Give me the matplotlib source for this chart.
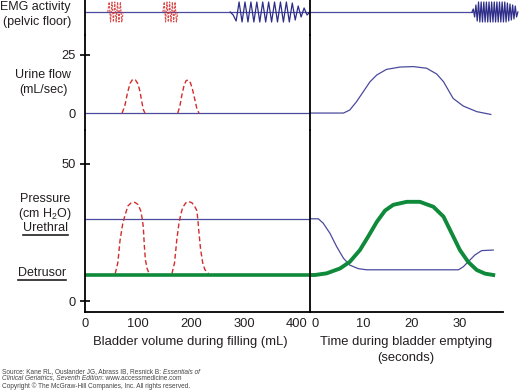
import matplotlib
matplotlib.use("Agg")
import matplotlib.pyplot as plt
from matplotlib.lines import Line2D
import numpy as np

plt.rcParams['font.family'] = ['Liberation Sans', 'DejaVu Sans']
plt.rcParams['mathtext.default'] = 'regular'

# ---- data ----
vol_ticks = [0, 100, 200, 300, 400]
time_ticks = [0, 10, 20, 30]

# EMG bursts (start, end, half-cycle amplitudes)
emg_guard1 = (43, 72)
emg_guard2 = (147, 175)
emg_guard_amp = [1, 1, 1, 1, 1, 1, 1, 1, 1, 1]
emg_fill = (274, 424.5)
emg_fill_amp = [-0.3, 0.9, 1, 1, 1, 1, 1, 1, 1, 1, 1, 1, 1, 1, 1, 1, 1, 1, 1, 1,
                0.9, 0.8, 0.6, 0.5, 0.4, 0.3]
emg_void = (32.5, 42.0)
emg_void_amp = [0.3, 0.5, 0.7, 0.9, 1, 1, 1, 1, 1, 1, 1, 1, 1, 1, 1, 1, 1, 1, 1, 1,
                1, 1, 1, 1, 1, 1, 0.9, 0.9, 0.8, 0.8, 0.7, 0.7, 0.6, 0.5]

# urine flow, filling phase (red dashed bumps)
flow_b1_vol = [70, 75, 80, 85, 90, 95, 100, 104, 107, 110, 113]
flow_b1_val = [0, 3, 8.5, 12.8, 14.5, 14.3, 12.5, 9, 5, 1.5, 0]
flow_b2_vol = [175, 179, 183, 187, 191, 195, 199, 203, 207, 211, 215]
flow_b2_val = [0, 3, 8, 12, 14, 14.2, 13, 10, 6, 2, 0]

# urine flow, emptying phase
flow_t = [-1.1, 5.9, 7.2, 8.6, 10, 11.4, 12.8, 14.8, 17.6, 20.3, 23.1, 25.2,
          26.6, 27.6, 28.6, 30.7, 33.5, 36.4]
flow_v = [0, 0, 1.3, 4.9, 9.2, 13.5, 16.4, 18.8, 19.8, 20, 19.3, 16.8,
          13.5, 9.9, 6.3, 3, 0.6, -0.6]

# pressure, filling phase
ureth_fill = 30
detr_fill = 9.5
pres_b1_vol = [57, 62, 66, 71, 75, 81, 87, 94, 100, 105, 108, 110, 112, 114, 117, 121]
pres_b1_val = [10, 14, 22, 28, 31, 34.7, 35.8, 36, 35.2, 33, 30, 27, 20, 15, 12, 10]
pres_b2_vol = [164, 169, 173, 177, 180, 184, 190, 196, 202, 207, 211, 213, 215, 218, 222, 226, 233]
pres_b2_val = [10, 14, 22, 28, 31, 34, 35.8, 36.3, 35.8, 34.5, 33, 29.5, 25, 19, 14, 11.5, 10]

# pressure, emptying phase
ureth_t = [-1.1, 0.7, 1.7, 3.1, 4.5, 5.9, 7.2, 9, 10.7, 29.7, 30.7, 31.7, 33.1, 34.5, 36.9]
ureth_p = [30, 30, 28.4, 24.7, 19.8, 15.6, 13.1, 11.8, 11.4, 11.4, 12.5, 14.3, 16.8, 18.4, 18.6]
detr_t = [-1.1, 0, 2.4, 5.2, 7.2, 9.3, 11, 12.8, 14.5, 16.2, 19, 21.7, 24.5, 26.6,
          28.3, 30, 31.7, 33.5, 35.2, 36.9]
detr_p = [9.5, 9.5, 10.1, 11.9, 14.3, 18.6, 23.5, 28.9, 33, 35.1, 36.2, 36.2, 34.4, 30.8,
          24.7, 18.6, 14.3, 11.3, 10, 9.5]

BLUE = '#4a4a9e'
DBLUE = '#2e2e8a'
RED = '#d42b2b'
GREEN = '#0e8a3a'
TXT = '#231f20'

W, H = 520, 392
fig = plt.figure(figsize=(5.2, 3.92), dpi=100)


def rect(x0, y0, x1, y1):
    return [x0 / W, 1 - y1 / H, (x1 - x0) / W, (y1 - y0) / H]


def zigzag(span, amps):
    x = np.linspace(span[0], span[1], len(amps) + 2)
    y = [0] + [a * (-1) ** i for i, a in enumerate(amps)] + [0]
    return x, y


L = (85, 310)
R = (310, 520)
rows = {'emg': (0, 35), 'flow': (35, 130), 'pres': (130, 312)}
xlim_l = (0, 424.5)
xlim_r = (-1.035, 42.44)
ylims = {'emg': (-2.3, 1.2), 'flow': (-7.3, 33.6), 'pres': (-4.0, 62.4)}

axes = {}
for key, (y0, y1) in rows.items():
    for side, (x0, x1), xl in [('l', L, xlim_l), ('r', R, xlim_r)]:
        ax = fig.add_axes(rect(x0, y0, x1, y1))
        ax.set_xlim(*xl)
        ax.set_ylim(*ylims[key])
        ax.patch.set_visible(False)
        for s in ['top', 'right', 'bottom']:
            ax.spines[s].set_visible(False)
        ax.spines['left'].set_linewidth(1.3)
        ax.spines['left'].set_color('black')
        ax.set_xticks([])
        ax.set_yticks([])
        axes[key + side] = ax

# EMG
ax = axes['emgl']
ax.plot(xlim_l, [0, 0], color=BLUE, lw=0.9)
for span in [emg_guard1, emg_guard2]:
    x, y = zigzag(span, emg_guard_amp)
    ax.plot(x, y, color=RED, lw=0.8, ls=(0, (2, 1.2)), alpha=0.85)
x, y = zigzag(emg_fill, emg_fill_amp)
ax.plot(x, y, color=DBLUE, lw=0.9)
ax = axes['emgr']
ax.plot([xlim_r[0], emg_void[0]], [0, 0], color=BLUE, lw=0.9)
x, y = zigzag(emg_void, emg_void_amp)
ax.plot(x, y, color=DBLUE, lw=0.9)

# urine flow
ax = axes['flowl']
ax.plot(xlim_l, [0, 0], color=BLUE, lw=0.9)
ax.plot(flow_b1_vol, flow_b1_val, color=RED, lw=1.0, ls=(0, (3.5, 2)))
ax.plot(flow_b2_vol, flow_b2_val, color=RED, lw=1.0, ls=(0, (3.5, 2)))
ax.set_yticks([0, 25])
ax.set_yticklabels(['0', '25'])
ax.tick_params(axis='y', direction='inout', length=7, width=1.2, pad=3,
               labelsize=9.3, labelcolor=TXT)
ax.yaxis.get_major_ticks()[0].tick1line.set_visible(False)
ax = axes['flowr']
ax.plot(flow_t, flow_v, color=BLUE, lw=0.9)

# pressure
ax = axes['presl']
ax.plot(xlim_l, [ureth_fill] * 2, color=BLUE, lw=0.9)
ax.plot(pres_b1_vol, pres_b1_val, color=RED, lw=1.0, ls=(0, (3.5, 2)))
ax.plot(pres_b2_vol, pres_b2_val, color=RED, lw=1.0, ls=(0, (3.5, 2)))
ax.plot(xlim_l, [detr_fill] * 2, color=GREEN, lw=2.6, solid_capstyle='butt')
ax.set_yticks([0, 50])
ax.tick_params(axis='y', direction='inout', length=7, width=1.2, pad=3,
               labelsize=9.3, labelcolor=TXT)
ax.spines['bottom'].set_visible(True)
ax.spines['bottom'].set_linewidth(1.3)
ax.set_xticks(vol_ticks)
ax.tick_params(axis='x', length=0, pad=4, labelsize=9.3, labelcolor=TXT)

ax = axes['presr']
ax.plot(ureth_t, ureth_p, color=BLUE, lw=0.9)
ax.plot(detr_t, detr_p, color=GREEN, lw=2.8)
ax.spines['bottom'].set_visible(True)
ax.spines['bottom'].set_linewidth(1.3)
ax.spines['bottom'].set_bounds(xlim_r[0], 38.9)
ax.set_xticks(time_ticks)
ax.tick_params(axis='x', length=0, pad=4, labelsize=9.3, labelcolor=TXT)


def ftext(x, y, s, **kw):
    kw.setdefault('fontsize', 9.0)
    kw.setdefault('color', TXT)
    return fig.text(x / W, 1 - y / H, s, va='center', **kw)


ftext(71, 7, 'EMG activity', ha='right')
ftext(71, 22, '(pelvic floor)', ha='right')
ftext(71, 75, 'Urine flow', ha='right')
ftext(68, 90, '(mL/sec)', ha='right')
ftext(45, 199, 'Pressure', ha='center')
ftext(45, 214, '(cm H$_2$O)', ha='center')
t_ur = ftext(45, 228, 'Urethral', ha='center')
t_de = ftext(42, 273, 'Detrusor', ha='center')

ftext(190, 342, 'Bladder volume during filling (mL)', ha='center', fontsize=9.4)
ftext(406, 342, 'Time during bladder emptying', ha='center', fontsize=9.4)
ftext(406, 358, '(seconds)', ha='center', fontsize=9.4)

src_kw = dict(fontsize=4.7, color='#444444', ha='left')
t_src = fig.text(2 / W, 1 - 372 / H, 'Source: Kane RL, Ouslander JG, Abrass IB, Resnick B: ',
                 va='center', **src_kw)
fig.canvas.draw()
rend = fig.canvas.get_renderer()
bb = t_src.get_window_extent(rend)
fig.text(bb.x1 / W, 1 - 372 / H, 'Essentials of', va='center', style='italic', **src_kw)
t2 = fig.text(2 / W, 1 - 378 / H, 'Clinical Geriatrics, Seventh Edition', va='center',
              style='italic', **src_kw)
fig.canvas.draw()
bb2 = t2.get_window_extent(rend)
fig.text(bb2.x1 / W, 1 - 378 / H, ': www.accessmedicine.com', va='center', **src_kw)
fig.text(2 / W, 1 - 386 / H, 'Copyright \u00a9 The McGraw-Hill Companies, Inc. All rights reserved.',
         va='center', **src_kw)

# underline the two pressure labels
for t in [t_ur, t_de]:
    b = t.get_window_extent(rend)
    yy = (b.y0 - 0.5) / H
    fig.add_artist(Line2D([b.x0 / W, b.x1 / W], [yy, yy], color=TXT, lw=1.2))

fig.savefig('out.png', dpi=100)
